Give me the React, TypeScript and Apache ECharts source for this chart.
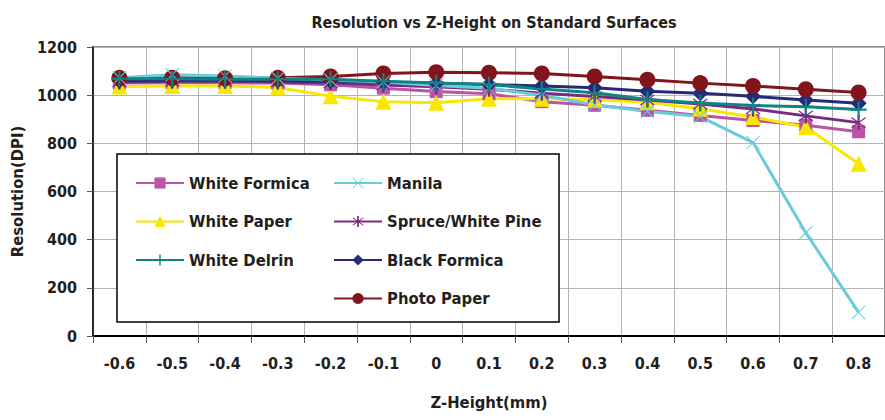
import React, { useEffect, useRef } from "react";
import * as echarts from "echarts";

const categories = ["-0.6", "-0.5", "-0.4", "-0.3", "-0.2", "-0.1", "0", "0.1", "0.2", "0.3", "0.4", "0.5", "0.6", "0.7", "0.8"];

const whiteFormica = [1050, 1052, 1052, 1050, 1043, 1029, 1015, 1006, 973, 958, 937, 916, 895, 875, 848];
const whitePaper = [1036, 1038, 1038, 1032, 996, 973, 969, 985, 985, 981, 971, 944, 909, 868, 715];
const whiteDelrin = [1068, 1068, 1066, 1066, 1066, 1058, 1051, 1044, 1026, 1010, 982, 968, 957, 952, 940];
const manila = [1072, 1085, 1080, 1070, 1063, 1055, 1040, 1029, 1000, 960, 932, 911, 803, 429, 98];
const spruce = [1055, 1058, 1058, 1055, 1050, 1042, 1035, 1025, 1008, 994, 980, 963, 943, 914, 886];
const blackFormica = [1060, 1062, 1062, 1060, 1058, 1055, 1050, 1044, 1038, 1031, 1016, 1008, 995, 980, 966];
const photoPaper = [1072, 1072, 1070, 1072, 1078, 1090, 1095, 1093, 1090, 1078, 1064, 1050, 1038, 1025, 1011];

const legendLeft = ["White Formica", "White Paper", "White Delrin"];
const legendRight = ["Manila", "Spruce/White Pine", "Black Formica", "Photo Paper"];

const FONT = "'DejaVu Sans Condensed', 'Liberation Sans', sans-serif";
const TXT = "#231f20";

const PLUS = "path://M-1.3,-10 L1.3,-10 L1.3,10 L-1.3,10 Z M-10,-1.3 L10,-1.3 L10,1.3 L-10,1.3 Z";
const CROSS = "path://M-9,-10 L10,9 L9,10 L-10,-9 Z M9,-10 L10,-9 L-9,10 L-10,9 Z";
const STAR = "path://M-1.1,-10 L1.1,-10 L1.1,10 L-1.1,10 Z M-6.3,-7.3 L7.3,6.3 L6.3,7.3 L-7.3,-6.3 Z M6.3,-7.3 L7.3,-6.3 L-6.3,7.3 L-7.3,6.3 Z";

export default function App() {
  const ref = useRef<HTMLDivElement>(null);
  useEffect(() => {
    document.body.style.margin = "0";
    const chart = echarts.init(ref.current!, null, { renderer: "svg" });
    const mk = (name: string, data: number[], color: string, symbol: string, size: number) => ({
      name,
      type: "line",
      data,
      symbol,
      symbolSize: size,
      lineStyle: { color, width: 3 },
      itemStyle: { color, borderWidth: 0 },
      emphasis: { disabled: true },
    });
    const legendCommon = {
      orient: "vertical",
      padding: 0,
      itemWidth: 48,
      itemHeight: 14,
      itemGap: 18.5,
      textStyle: { fontFamily: FONT, fontWeight: "bold", fontSize: 16.5, lineHeight: 20, color: TXT },
      selectedMode: false,
      z: 10,
    };
    chart.setOption({
      animation: false,
      title: {
        text: "Resolution vs Z-Height on Standard Surfaces",
        left: 489,
        textAlign: "center",
        top: 9,
        textStyle: { fontFamily: FONT, fontWeight: "bold", fontSize: 16, color: TXT },
      },
      grid: {
        left: 93,
        top: 47,
        width: 798,
        height: 289,
        show: true,
        borderColor: "#8c8c8c",
        borderWidth: 2,
        backgroundColor: "transparent",
      },
      legend: [
        { ...legendCommon, data: legendLeft, left: 135, top: 173 },
        { ...legendCommon, data: legendRight, left: 333, top: 173 },
      ],
      graphic: [
        {
          type: "rect",
          z: 5,
          shape: { x: 117, y: 154, width: 442, height: 168 },
          style: { fill: "#ffffff", stroke: "#000000", lineWidth: 1.5 },
        },
      ],
      xAxis: {
        type: "category",
        data: categories,
        boundaryGap: true,
        name: "Z-Height(mm)",
        nameLocation: "middle",
        nameGap: 58,
        nameTextStyle: { fontFamily: FONT, fontWeight: "bold", fontSize: 16.5, color: TXT },
        axisLine: { lineStyle: { color: "#000", width: 2 } },
        axisTick: { show: true, inside: false, length: 7, alignWithLabel: false, lineStyle: { color: "#555" } },
        axisLabel: { fontFamily: FONT, fontWeight: "bold", fontSize: 16, color: TXT, margin: 19, interval: 0 },
        splitLine: { show: true, interval: 0, lineStyle: { color: "#b4b4b4", width: 1 } },
      },
      yAxis: {
        type: "value",
        min: 0,
        max: 1200,
        interval: 200,
        name: "Resolution(DPI)",
        nameLocation: "middle",
        nameGap: 59,
        nameTextStyle: { fontFamily: FONT, fontWeight: "bold", fontSize: 16.5, color: TXT },
        axisLine: { show: true, lineStyle: { color: "#000", width: 1.5 } },
        axisTick: { show: true, length: 6, lineStyle: { color: "#555" } },
        axisLabel: { fontFamily: FONT, fontWeight: "bold", fontSize: 16, color: TXT, margin: 16, formatter: (v: number) => String(v) },
        splitLine: { show: true, lineStyle: { color: "#b4b4b4", width: 1 } },
      },
      series: [
        mk("White Formica", whiteFormica, "#bb54a6", "rect", 13),
        mk("White Paper", whitePaper, "#f7e800", "triangle", 16),
        mk("Spruce/White Pine", spruce, "#7a2a82", STAR, 15),
        mk("Black Formica", blackFormica, "#252b78", "diamond", 16),
        mk("Photo Paper", photoPaper, "#82151b", "circle", 16),
        mk("Manila", manila, "#6bcadc", CROSS, 14),
        mk("White Delrin", whiteDelrin, "#0c8583", PLUS, 16),
      ],
    });
    return () => chart.dispose();
  }, []);
  return <div ref={ref} style={{ width: 885, height: 420 }} />;
}
